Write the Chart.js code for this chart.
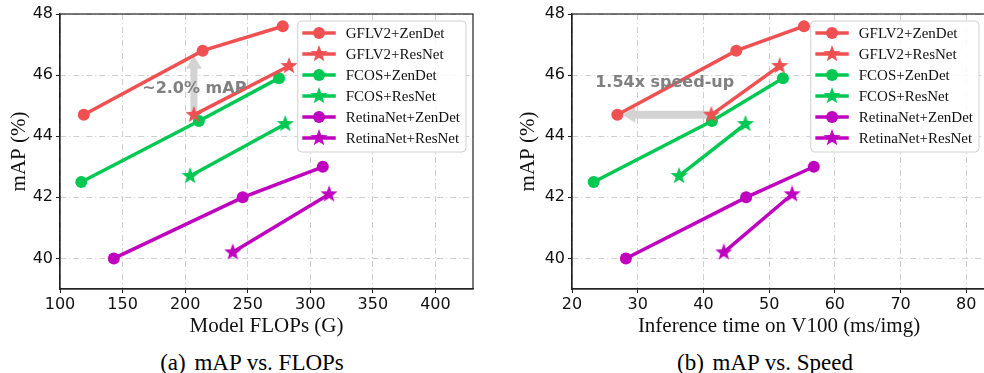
<!DOCTYPE html>
<html>
<head>
<meta charset="utf-8">
<script src="https://cdn.jsdelivr.net/npm/chart.js@4.4.0/dist/chart.umd.min.js"></script>
<style>
  html, body { margin: 0; padding: 0; background: #fff; overflow: hidden; }
  #figura { position: relative; width: 984px; height: 373px; overflow: hidden; }
  canvas { position: absolute; top: 0; }
  .pie { position: absolute; top: 349px; font-family: "Liberation Serif", serif; font-size: 23px;
         line-height: 28px; text-align: center; color: #000; white-space: pre; }
  .pie span { margin-left: 3px; }
</style>
</head>
<body>
<div id="figura">
  <canvas id="graficoFlops" width="490" height="340" style="left:0"></canvas>
  <canvas id="graficoTiempo" width="510" height="340" style="left:500px"></canvas>
  <div class="pie" style="left:0;width:504px">(a) <span>mAP vs. FLOPs</span></div>
  <div class="pie" style="left:546px;width:438px">(b) <span>mAP vs. Speed</span></div>
</div>
<script>
// Nombres de las series (orden de la leyenda)
const nombres = [
  "GFLV2+ZenDet",
  "GFLV2+ResNet",
  "FCOS+ZenDet",
  "FCOS+ResNet",
  "RetinaNet+ZenDet",
  "RetinaNet+ResNet",
];

// mAP (%) de cada serie
const mapGflZen = [44.7, 46.8, 47.6];
const mapGflRes = [44.7, 46.3];
const mapFcosZen = [42.5, 44.5, 45.9];
const mapFcosRes = [42.7, 44.4];
const mapRetZen = [40.0, 42.0, 43.0];
const mapRetRes = [40.2, 42.1];

// FLOPs del modelo (G)
const flopsGflZen = [119, 214, 278];
const flopsGflRes = [207, 283];
const flopsFcosZen = [117, 211, 275];
const flopsFcosRes = [204, 280];
const flopsRetZen = [143, 246, 310];
const flopsRetRes = [238, 315];

// Tiempo de inferencia en V100 (ms/img)
const tiempoGflZen = [26.9, 45.0, 55.3];
const tiempoGflRes = [41.2, 51.6];
const tiempoFcosZen = [23.3, 41.3, 52.1];
const tiempoFcosRes = [36.3, 46.4];
const tiempoRetZen = [28.2, 46.5, 56.8];
const tiempoRetRes = [43.1, 53.5];

// Marcas de los ejes
const ticksMap = [40, 42, 44, 46, 48];
const ticksFlops = [100, 150, 200, 250, 300, 350, 400];
const ticksTiempo = [20, 30, 40, 50, 60, 70, 80];

// Anotaciones (punto inicial, punto final, texto y su posición)
const flechaFlops = [[207, 44.7], [207, 46.8]];
const textoFlops = "~2.0% mAP";
const posTextoFlops = [207.3, 45.55];
const flechaTiempo = [[41.2, 44.7], [26.9, 44.7]];
const textoTiempo = "1.54x speed-up";
const posTextoTiempo = [34.1, 45.74];

const colorRojo = "#ef5153";
const colorVerde = "#00c853";
const colorMorado = "#bf00bf";
const colores = [colorRojo, colorRojo, colorVerde, colorVerde, colorMorado, colorMorado];

// Estrella rellena de 5 puntas como imagen para pointStyle
function crearEstrella(color) {
  const c = document.createElement("canvas");
  c.width = 20;
  c.height = 20;
  const g = c.getContext("2d");
  g.beginPath();
  for (let k = 0; k < 10; k++) {
    const r = k % 2 === 0 ? 9 : 3.7;
    const ang = -Math.PI / 2 + (k * Math.PI) / 5;
    g.lineTo(10 + r * Math.cos(ang), 10 + r * Math.sin(ang));
  }
  g.closePath();
  g.fillStyle = color;
  g.fill();
  return c;
}
const estrellaRoja = crearEstrella(colorRojo);
const estrellaVerde = crearEstrella(colorVerde);
const estrellaMorada = crearEstrella(colorMorado);
const marcadores = ["circle", estrellaRoja, "circle", estrellaVerde, "circle", estrellaMorada];

const valoresMap = [mapGflZen, mapGflRes, mapFcosZen, mapFcosRes, mapRetZen, mapRetRes];

function crearSeries(valoresX) {
  return nombres.map((nombre, i) => ({
    label: nombre,
    data: valoresX[i].map((x, j) => ({ x: x, y: valoresMap[i][j] })),
    showLine: true,
    borderColor: colores[i],
    backgroundColor: colores[i],
    borderWidth: 3.5,
    pointStyle: marcadores[i],
    pointRadius: 6,
    pointHoverRadius: 6,
    pointBorderWidth: 0,
    clip: false,
  }));
}

// Flecha gris gruesa estilo matplotlib
function dibujarFlecha(ctx, x0, y0, x1, y1, grosor) {
  const largo = Math.hypot(x1 - x0, y1 - y0);
  const ux = (x1 - x0) / largo, uy = (y1 - y0) / largo;
  const nx = -uy, ny = ux;
  const sx = x0 + ux * 2, sy = y0 + uy * 2;
  const ex = x1 - ux * 5, ey = y1 - uy * 5;
  const bx = ex - ux * 13, by = ey - uy * 13;
  const g = grosor / 2, h = 8;
  ctx.save();
  ctx.fillStyle = "#d3d3d3";
  ctx.beginPath();
  ctx.moveTo(sx + nx * g, sy + ny * g);
  ctx.lineTo(bx + nx * g, by + ny * g);
  ctx.lineTo(bx + nx * h, by + ny * h);
  ctx.lineTo(ex, ey);
  ctx.lineTo(bx - nx * h, by - ny * h);
  ctx.lineTo(bx - nx * g, by - ny * g);
  ctx.lineTo(sx - nx * g, sy - ny * g);
  ctx.closePath();
  ctx.fill();
  ctx.restore();
}

function dibujarLeyenda(chart) {
  const ctx = chart.ctx;
  const area = chart.chartArea;
  ctx.save();
  ctx.font = '15px "Liberation Serif"';
  const anchoTexto = Math.max(...chart.data.datasets.map((d) => ctx.measureText(d.label).width));
  const ancho = 48 + anchoTexto + 6;
  const alto = 131;
  const x0 = area.right - 7 - ancho;
  const y0 = area.top + 7;
  ctx.beginPath();
  ctx.roundRect(x0, y0, ancho, alto, 4);
  ctx.fillStyle = "rgba(255,255,255,0.85)";
  ctx.fill();
  ctx.strokeStyle = "#d0d0d0";
  ctx.lineWidth = 1;
  ctx.stroke();
  chart.data.datasets.forEach((d, i) => {
    const yy = y0 + 12 + i * 21;
    ctx.beginPath();
    ctx.moveTo(x0 + 4.6, yy);
    ctx.lineTo(x0 + 38, yy);
    ctx.strokeStyle = d.borderColor;
    ctx.lineWidth = 3.5;
    ctx.stroke();
    const cx = x0 + 21.3;
    if (d.pointStyle === "circle") {
      ctx.beginPath();
      ctx.arc(cx, yy, 6, 0, Math.PI * 2);
      ctx.fillStyle = d.backgroundColor;
      ctx.fill();
    } else {
      ctx.drawImage(d.pointStyle, cx - 10, yy - 10);
    }
    ctx.fillStyle = "#111";
    ctx.textAlign = "left";
    ctx.textBaseline = "middle";
    ctx.fillText(d.label, x0 + 48, yy + 1);
  });
  ctx.restore();
}

const pluginFigura = {
  id: "figura",
  beforeDatasetsDraw(chart, args, opts) {
    const sx = chart.scales.x, sy = chart.scales.y;
    const [a, b] = opts.flecha;
    dibujarFlecha(chart.ctx,
      sx.getPixelForValue(a[0]), sy.getPixelForValue(a[1]),
      sx.getPixelForValue(b[0]), sy.getPixelForValue(b[1]), opts.grosor);
  },
  afterDatasetsDraw(chart, args, opts) {
    const ctx = chart.ctx, area = chart.chartArea;
    const sx = chart.scales.x, sy = chart.scales.y;
    // marco completo
    ctx.save();
    ctx.strokeStyle = "#222";
    ctx.lineWidth = 1.2;
    ctx.strokeRect(area.left, area.top, area.width, area.height);
    // texto de la anotación
    ctx.font = 'bold 16px "DejaVu Sans"';
    ctx.fillStyle = "#808080";
    ctx.textAlign = "center";
    ctx.textBaseline = "middle";
    ctx.fillText(opts.texto, sx.getPixelForValue(opts.posTexto[0]), sy.getPixelForValue(opts.posTexto[1]));
    ctx.restore();
    dibujarLeyenda(chart);
  },
};

function crearGrafico(id, series, xMin, xMax, xTicks, tituloX, anchoY, padDerecho, padTituloY, anotacion) {
  const ctx = document.getElementById(id).getContext("2d");
  return new Chart(ctx, {
    type: "scatter",
    data: { datasets: series },
    plugins: [pluginFigura],
    options: {
      responsive: false,
      animation: false,
      events: [],
      layout: { padding: { top: 14, right: padDerecho, left: 0, bottom: 0 } },
      scales: {
        x: {
          type: "linear",
          min: xMin,
          max: xMax,
          afterBuildTicks: (eje) => { eje.ticks = xTicks.map((v) => ({ value: v })); },
          afterFit: (eje) => { eje.height = 51; },
          grid: { color: "#cfcfcf", lineWidth: 1, tickLength: 4, tickColor: "#222" },
          border: { color: "#222", width: 1.2, dash: [6, 3, 1, 3] },
          ticks: { color: "#111", padding: 2, maxRotation: 0, font: { family: "DejaVu Sans", size: 16 } },
          title: {
            display: true,
            text: tituloX,
            color: "#111",
            padding: { top: 0, bottom: 1 },
            font: { family: "Liberation Serif", size: 21 },
          },
        },
        y: {
          type: "linear",
          min: 39,
          max: 48,
          afterBuildTicks: (eje) => { eje.ticks = ticksMap.map((v) => ({ value: v })); },
          afterFit: (eje) => { eje.width = anchoY; },
          grid: { color: "#cfcfcf", lineWidth: 1, tickLength: 4, tickColor: "#222" },
          border: { color: "#222", width: 1.2, dash: [6, 3, 1, 3] },
          ticks: { color: "#111", padding: 3, font: { family: "DejaVu Sans", size: 16 } },
          title: {
            display: true,
            text: "mAP (%)",
            color: "#111",
            padding: { top: padTituloY, bottom: 0 },
            font: { family: "Liberation Serif", size: 21 },
          },
        },
      },
      plugins: {
        legend: { display: false },
        tooltip: { enabled: false },
        figura: anotacion,
      },
    },
  });
}

crearGrafico(
  "graficoFlops",
  crearSeries([flopsGflZen, flopsGflRes, flopsFcosZen, flopsFcosRes, flopsRetZen, flopsRetRes]),
  100, 430, ticksFlops, "Model FLOPs (G)", 60, 17, 7,
  { flecha: flechaFlops, grosor: 7, texto: textoFlops, posTexto: posTextoFlops }
);

crearGrafico(
  "graficoTiempo",
  crearSeries([tiempoGflZen, tiempoGflRes, tiempoFcosZen, tiempoFcosRes, tiempoRetZen, tiempoRetRes]),
  20, 83, ticksTiempo, "Inference time on V100 (ms/img)", 72, 24, 16,
  { flecha: flechaTiempo, grosor: 8, texto: textoTiempo, posTexto: posTextoTiempo }
);
</script>
</body>
</html>
